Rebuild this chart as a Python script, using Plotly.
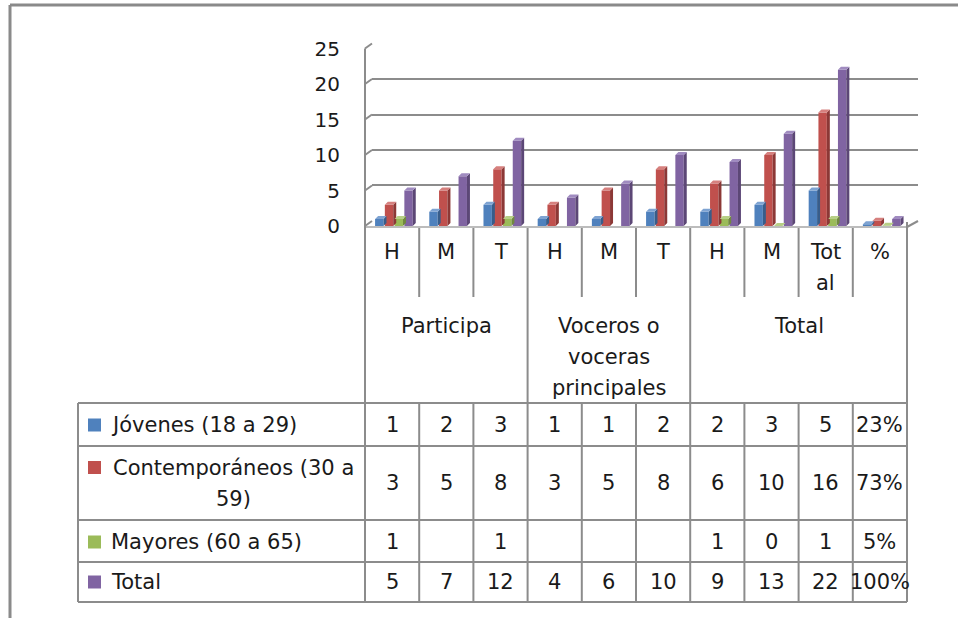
import plotly.graph_objects as go

# ---------------- data ----------------
categories = ["H", "M", "T", "H", "M", "T", "H", "M", "Total", "%"]
cat_display = ["H", "M", "T", "H", "M", "T", "H", "M", "Tot<br>al", "%"]
groups = ["Participa", "Voceros o<br>voceras<br>principales", "Total"]
group_spans = [3, 3, 4]
series_names = ["Jóvenes (18 a 29)", "Contemporáneos (30 a 59)", "Mayores (60 a 65)", "Total"]
legend_display = ["Jóvenes (18 a 29)", "Contemporáneos (30 a<br>59)", "Mayores (60 a 65)", "Total"]
jovenes = [1, 2, 3, 1, 1, 2, 2, 3, 5, 0.23]
contemporaneos = [3, 5, 8, 3, 5, 8, 6, 10, 16, 0.73]
mayores = [1, None, 1, None, None, None, 1, 0, 1, 0.05]
total = [5, 7, 12, 4, 6, 10, 9, 13, 22, 1.00]
y_ticks = [0, 5, 10, 15, 20, 25]

series_values = [jovenes, contemporaneos, mayores, total]

# ---------------- style ----------------
front_colors = ["#4F81BD", "#C0504D", "#9BBB59", "#8064A2"]
side_colors = ["#385D8A", "#8C3836", "#71893F", "#5C4776"]
top_colors = ["#7EA3D2", "#D6807E", "#B7CF86", "#A08BC0"]
GRID = "#8c8c8c"
TXT = "#1a1a1a"
FONT = "DejaVu Sans"

W, H = 958, 618
def X(px):
    return px / W
def Y(py):
    return 1 - py / H

col_left, col_w = 365.0, 54.2
ncol = len(categories)
col_right = col_left + col_w * ncol
front_zero, front_top = 226.0, 48.5
back_dx, back_dy = 7.0, 5.0
back_left, back_right = 372.0, 918.0

ymax = 25.0
px_per_unit_y = (front_zero - front_top) / ymax
px_per_unit_x = col_w

# bar geometry (in data units)
pitch = 0.18
bw = 0.155
first_off = -0.314
ddx = 3.0 / px_per_unit_x
ddy = 3.0 / px_per_unit_y

fig = go.Figure()

# bars (front faces) on x2/y2
for i, (name, vals) in enumerate(zip(series_names, series_values)):
    off = first_off + i * pitch
    fig.add_trace(go.Bar(
        x=list(range(ncol)), y=vals, name=name,
        offset=off, width=bw,
        marker=dict(color=front_colors[i], line=dict(width=0)),
        xaxis="x2", yaxis="y2", showlegend=False, hoverinfo="skip",
    ))

# 3D side and top faces
for i, vals in enumerate(series_values):
    off = first_off + i * pitch
    sx, sy, tx, ty = [], [], [], []
    for c, v in enumerate(vals):
        if v is None:
            continue
        x0 = c + off
        x1 = x0 + bw
        sx += [x1, x1 + ddx, x1 + ddx, x1, x1, None]
        sy += [0, ddy, v + ddy, v, 0, None]
        tx += [x0, x1, x1 + ddx, x0 + ddx, x0, None]
        ty += [v, v, v + ddy, v + ddy, v, None]
    fig.add_trace(go.Scatter(x=sx, y=sy, mode="lines", fill="toself",
                             fillcolor=side_colors[i], line=dict(width=0, color=side_colors[i]),
                             xaxis="x2", yaxis="y2", showlegend=False, hoverinfo="skip"))
    fig.add_trace(go.Scatter(x=tx, y=ty, mode="lines", fill="toself",
                             fillcolor=top_colors[i], line=dict(width=0, color=top_colors[i]),
                             xaxis="x2", yaxis="y2", showlegend=False, hoverinfo="skip"))

# invisible trace for back wall axes
fig.add_trace(go.Scatter(x=[0.5], y=[0], mode="markers", marker=dict(opacity=0, size=1),
                         xaxis="x", yaxis="y", showlegend=False, hoverinfo="skip"))

shapes = []
def line(x0, y0, x1, y1, color=GRID, width=2):
    shapes.append(dict(type="line", xref="paper", yref="paper",
                       x0=X(x0), y0=Y(y0), x1=X(x1), y1=Y(y1),
                       line=dict(color=color, width=width)))

# frame
line(10, 5, 958, 5, "#8a8a8a", 3)
line(10, 5, 10, 618, "#8a8a8a", 3)

# left wall diagonals at ticks
for t in y_ticks:
    yf = front_zero - t * px_per_unit_y
    line(col_left, yf, back_left, yf - back_dy)
# floor
line(col_left, front_zero + 1, col_right, front_zero + 1, "#a6a6a6", 1.5)
line(col_right, front_zero + 1, back_right, front_zero + 1 - back_dy - 1, GRID, 2)

# table geometry
hdr_top, hdr_mid, hdr_bot = 228, 297, 403
row_lines = [403, 446, 520, 562, 602]
row_y = [425, 483, 542, 582]
tbl_left = 78

col_edges = [col_left + k * col_w for k in range(ncol + 1)]
group_edges = [0]
for s in group_spans:
    group_edges.append(group_edges[-1] + s)

# left wall / axis vertical
line(col_left, front_top, col_left, row_lines[-1])
for k, xe in enumerate(col_edges[1:], start=1):
    if k in group_edges:
        line(xe, hdr_top if k < ncol else front_zero - 4, xe, row_lines[-1])
    else:
        line(xe, hdr_top, xe, hdr_mid)
        line(xe, hdr_bot, xe, row_lines[-1])
for yl in row_lines:
    line(tbl_left, yl, col_right, yl)
line(tbl_left, row_lines[0], tbl_left, row_lines[-1])

annotations = []
def text(x, y, s, anchor="center", size=21):
    annotations.append(dict(x=X(x), y=Y(y), xref="paper", yref="paper", text=s,
                            showarrow=False, xanchor=anchor, yanchor="middle",
                            font=dict(family=FONT, size=size, color=TXT)))

line_h = 31
# category labels
for k, lab in enumerate(cat_display):
    cx = col_left + (k + 0.5) * col_w
    for j, part in enumerate(lab.split("<br>")):
        text(cx, 252 + j * line_h, part)
# group labels
for g, lab in enumerate(groups):
    cx = col_left + (group_edges[g] + group_edges[g + 1]) / 2 * col_w
    for j, part in enumerate(lab.split("<br>")):
        text(cx, 326 + j * line_h, part)

# legend cells + values
for i, lab in enumerate(legend_display):
    parts = lab.split("<br>")
    ry = row_y[i]
    if len(parts) == 1:
        text(109, ry, parts[0], anchor="left")
        my = ry
    else:
        y0 = ry - (len(parts) - 1) * line_h / 2
        for j, p in enumerate(parts):
            text(233, y0 + j * line_h, p)
        my = y0
    shapes.append(dict(type="rect", xref="paper", yref="paper",
                       x0=X(88), x1=X(101), y0=Y(my - 6.5), y1=Y(my + 6.5),
                       fillcolor=front_colors[i], line=dict(width=0)))
    for c, v in enumerate(series_values[i]):
        if v is None:
            continue
        s = f"{round(v * 100)}%" if categories[c] == "%" else str(int(v))
        text(col_left + (c + 0.5) * col_w, ry, s)

fig.update_layout(
    template="none",
    width=W, height=H, margin=dict(l=0, r=0, t=0, b=0, pad=0, autoexpand=False),
    paper_bgcolor="white", plot_bgcolor="rgba(0,0,0,0)",
    barmode="overlay", showlegend=False,
    xaxis=dict(domain=[X(back_left), X(back_right)], range=[0, 1], visible=False,
               fixedrange=True, automargin=False),
    yaxis=dict(domain=[Y(front_zero - back_dy), Y(front_top - back_dy)], range=[-0.02, 25.02],
               tickvals=y_ticks, showgrid=True, gridcolor=GRID, gridwidth=2,
               showticklabels=False, zeroline=False, showline=False, ticks="",
               fixedrange=True, automargin=False),
    xaxis2=dict(domain=[X(col_left), X(col_right)], range=[-0.5, ncol - 0.5], anchor="y2",
                visible=False, fixedrange=True, automargin=False),
    yaxis2=dict(domain=[Y(front_zero), Y(front_top)], range=[0, 25], anchor="x2",
                tickvals=y_ticks, showgrid=False, zeroline=False, showline=False, ticks="",
                ticklabelstandoff=24, tickfont=dict(family=FONT, size=20, color=TXT),
                fixedrange=True, automargin=False),
    shapes=shapes, annotations=annotations,
)

fig.write_html("out.html", config={"displayModeBar": False, "staticPlot": True},
               post_script="document.body.style.margin='0';document.body.style.overflow='hidden';")
